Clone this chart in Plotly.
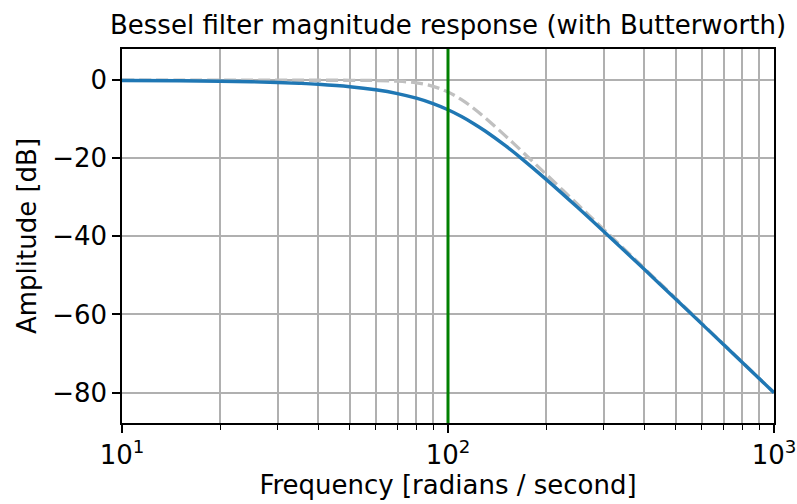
import plotly.graph_objects as go

# Frequency grid (rad/s) and magnitude responses (dB)
freq = [10, 15, 20, 25, 30, 35, 40, 50, 60, 70, 80, 90, 100, 110, 120, 130,
        150, 170, 200, 250, 300, 400, 500, 700, 1000]
bessel_db = [-0.064, -0.144, -0.256, -0.401, -0.58, -0.794, -1.04, -1.66, -2.45,
             -3.42, -4.61, -6.00, -7.58, -9.31, -11.14, -13.01, -16.77, -20.39,
             -25.39, -32.61, -38.69, -48.44, -56.09, -67.70, -80.04]
butter_db = [0.0, 0.0, 0.0, 0.0, 0.0, -0.0003, -0.003, -0.017, -0.072, -0.243,
             -0.673, -1.555, -3.01, -4.97, -7.24, -9.62, -14.25, -18.50, -24.10,
             -31.84, -38.17, -48.17, -55.92, -67.61, -80.0]
cutoff = 100

x_major = [10, 100, 1000]
x_major_text = ["10<sup>1</sup>", "10<sup>2</sup>", "10<sup>3</sup>"]
x_minor = [20, 30, 40, 50, 60, 70, 80, 90, 200, 300, 400, 500, 600, 700, 800, 900]
y_ticks = [0, -20, -40, -60, -80]
y_text = ["0", "\u221220", "\u221240", "\u221260", "\u221280"]
y_range = [-87.8, 8.0]

FONT = "DejaVu Sans"
FS = 26

fig = go.Figure()
fig.add_trace(go.Scatter(x=freq, y=butter_db, mode="lines",
                         line=dict(color="#c0c0c0", width=3.3, dash="12px,5px", shape="spline"),
                         showlegend=False))
fig.add_trace(go.Scatter(x=freq, y=bessel_db, mode="lines",
                         line=dict(color="#1f77b4", width=3.4, shape="spline"),
                         showlegend=False))
fig.add_trace(go.Scatter(x=[cutoff, cutoff], y=y_range, mode="lines",
                         line=dict(color="#008000", width=3), showlegend=False))

fig.update_layout(
    width=797, height=504,
    margin=dict(l=122, r=23, t=49, b=81),
    paper_bgcolor="white", plot_bgcolor="white",
    font=dict(family=FONT, color="black", size=FS),
    title=dict(text="Bessel filter magnitude response (with Butterworth)",
               x=0.5, xref="paper", xanchor="center",
               y=1 - 25 / 504, yref="container", yanchor="middle",
               font=dict(size=FS, family=FONT, color="black")),
)
fig.update_xaxes(
    type="log", range=[1, 3], automargin=False,
    tickmode="array", tickvals=x_major, ticktext=x_major_text,
    ticks="outside", ticklen=8, tickwidth=1.5, tickcolor="black",
    showgrid=True, gridcolor="#b0b0b0", gridwidth=1.7,
    showline=True, linecolor="black", linewidth=1.5, mirror=True,
    zeroline=False,
    minor=dict(tickmode="array", tickvals=x_minor, ticks="outside", ticklen=5,
               tickwidth=1.2, tickcolor="black", showgrid=True,
               gridcolor="#b0b0b0", gridwidth=1.7),
    title=dict(text="Frequency [radians / second]", standoff=6,
               font=dict(size=FS, family=FONT)),
    tickfont=dict(size=FS, family=FONT),
)
fig.update_yaxes(
    range=y_range, automargin=False,
    tickmode="array", tickvals=y_ticks, ticktext=y_text,
    ticks="outside", ticklen=8, tickwidth=1.5, tickcolor="black",
    showgrid=True, gridcolor="#b0b0b0", gridwidth=1.7,
    showline=True, linecolor="black", linewidth=1.5, mirror=True,
    zeroline=False,
    title=dict(text="Amplitude [dB]", standoff=8,
               font=dict(size=FS, family=FONT)),
    tickfont=dict(size=FS, family=FONT),
)

fig.write_html("out.html")
